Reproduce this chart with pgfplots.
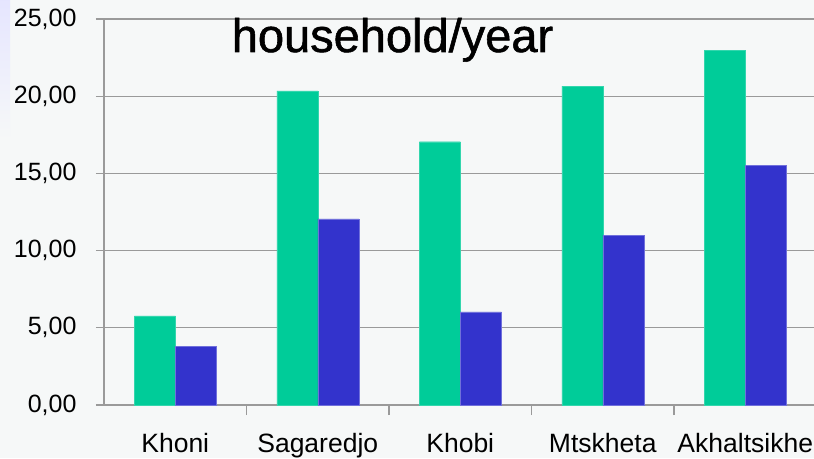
\documentclass[border=0pt]{standalone}
\usepackage{pgfplots}
\pgfplotsset{compat=1.18}
\usepackage{fontspec}
\setmainfont{Liberation Sans}

\definecolor{bgcol}{HTML}{F6F8F8}
\definecolor{gridcol}{HTML}{9A9A9A}
\definecolor{greenbar}{HTML}{00CC99}
\definecolor{bluebar}{HTML}{3333CC}

\begin{document}
\begin{tikzpicture}
  % page frame: 814 x 458 (1pt = 1px)
  \useasboundingbox (0,0) rectangle (814pt,458pt);
  \fill[bgcol] (0,0) rectangle (814pt,458pt);
  \shade[top color=blue!10, bottom color=bgcol] (0,318pt) rectangle (10pt,458pt);
  \clip (0,0) rectangle (814pt,458pt);

  \begin{axis}[
    at={(104pt,53pt)}, anchor=south west,
    scale only axis,
    width=712.5pt, height=386pt,
    xmin=-0.5, xmax=4.5,
    ymin=0, ymax=25,
    ybar=0pt, bar width=41pt,
    axis lines=left,
    axis line style={-, gridcol, line width=1.3pt},
    tick align=outside,
    xtick pos=bottom, ytick pos=left,
    xtick={0,1,2,3,4},
    xticklabels={Khoni,Sagaredjo,Khobi,Mtskheta,Akhaltsikhe},
    major x tick style={draw=none},
    extra x ticks={0.5,1.5,2.5,3.5,4.5},
    extra x tick labels={},
    extra x tick style={grid=none, major tick length=10pt,
      major x tick style={draw=gridcol, line width=1.3pt}},
    ytick={0,5,10,15,20,25},
    yticklabels={{0,00},{5,00},{10,00},{15,00},{20,00},{25,00}},
    major tick length=8pt,
    y tick style={gridcol, line width=1.3pt},
    ymajorgrids,
    grid style={gridcol, line width=1.3pt},
    /pgf/number format/assume math mode=true,
    xticklabel style={font=\fontsize{26.5}{30}\selectfont, anchor=base, yshift=-39pt},
    yticklabel style={font=\fontsize{25}{30}\selectfont, anchor=east, xshift=-16pt},
    axis background/.style={fill=bgcol},
  ]
    \addplot[fill=greenbar, draw=greenbar!80!white] coordinates {
      (0,5.78) (1,20.34) (2,17.05) (3,20.66) (4,22.99)
    };
    \addplot[fill=bluebar, draw=bluebar!70!white] coordinates {
      (0,3.78) (1,12.05) (2,6.03) (3,11.01) (4,15.54)
    };
  \end{axis}

  \node[anchor=base, inner sep=0pt,
        font=\fontsize{47}{50}\selectfont\addfontfeature{FakeBold=1.2}]
    at (392.5pt,406pt) {household/year};
\end{tikzpicture}
\end{document}
